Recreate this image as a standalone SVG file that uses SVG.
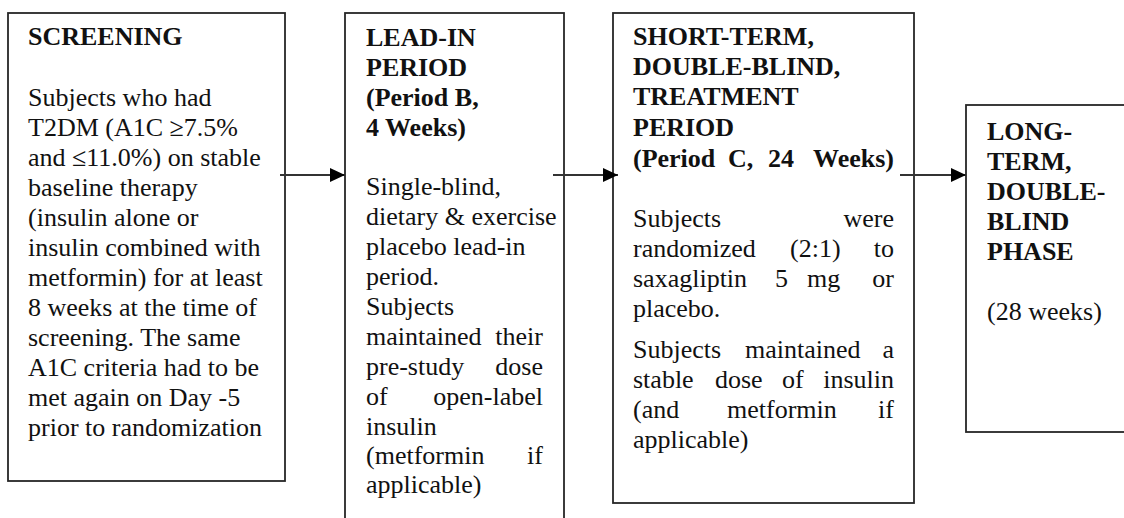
<svg xmlns="http://www.w3.org/2000/svg" width="1124" height="518" viewBox="0 0 1124 518">
  <style>
    .box { fill: #ffffff; stroke: #262626; stroke-width: 1.8; }
    text { font-family: "Liberation Serif", "Times New Roman", serif; font-size: 26px; fill: #111111; }
    .h { font-weight: bold; }
    .end { text-anchor: end; }
    .link { stroke: #333333; stroke-width: 2; fill: none; }
  </style>
  <defs>
    <marker id="arrow" markerWidth="15" markerHeight="14" refX="15" refY="7" orient="auto" markerUnits="userSpaceOnUse">
      <path d="M0,0 L15,7 L0,14 Z" fill="#000000"/>
    </marker>
  </defs>
  <rect width="1124" height="518" fill="#ffffff"/>

  <!-- Screening -->
  <g id="screening">
    <rect class="box" x="8" y="13" width="277" height="468"/>
    <text class="h" x="28" y="45">SCREENING</text>
    <text x="28" y="106">Subjects who had</text>
    <text x="28" y="136">T2DM (A1C ≥7.5%</text>
    <text x="28" y="166">and ≤11.0%) on stable</text>
    <text x="28" y="196">baseline therapy</text>
    <text x="28" y="226">(insulin alone or</text>
    <text x="28" y="256">insulin combined with</text>
    <text x="28" y="286">metformin) for at least</text>
    <text x="28" y="316">8 weeks at the time of</text>
    <text x="28" y="346">screening. The same</text>
    <text x="28" y="376">A1C criteria had to be</text>
    <text x="28" y="406">met again on Day -5</text>
    <text x="28" y="436">prior to randomization</text>
  </g>

  <!-- Lead-in period -->
  <g id="lead-in">
    <rect class="box" x="345" y="13" width="219" height="520"/>
    <text class="h" x="366" y="46">LEAD-IN</text>
    <text class="h" x="366" y="76">PERIOD</text>
    <text class="h" x="366" y="106">(Period B,</text>
    <text class="h" x="366" y="136">4 Weeks)</text>
    <text x="366" y="195">Single-blind,</text>
    <text x="366" y="225">dietary &amp; exercise</text>
    <text x="366" y="255">placebo lead-in</text>
    <text x="366" y="285">period.</text>
    <text x="366" y="315">Subjects</text>
    <text x="366" y="345">maintained</text><text class="end" x="543" y="345">their</text>
    <text x="366" y="375">pre-study</text><text class="end" x="543" y="375">dose</text>
    <text x="366" y="405">of</text><text class="end" x="543" y="405">open-label</text>
    <text x="366" y="435">insulin</text>
    <text x="366" y="464">(metformin</text><text class="end" x="543" y="464">if</text>
    <text x="366" y="493">applicable)</text>
  </g>

  <!-- Short-term double-blind treatment period -->
  <g id="short-term">
    <rect class="box" x="613" y="13" width="301" height="490"/>
    <text class="h" x="633" y="45">SHORT-TERM,</text>
    <text class="h" x="633" y="75">DOUBLE-BLIND,</text>
    <text class="h" x="633" y="105">TREATMENT</text>
    <text class="h" x="633" y="136">PERIOD</text>
    <text class="h" x="633" y="167">(Period</text><text class="h" x="728" y="167">C,</text><text class="h" x="768" y="167">24</text><text class="h end" x="894" y="167">Weeks)</text>
    <text x="633" y="227">Subjects</text><text class="end" x="894" y="227">were</text>
    <text x="633" y="257">randomized</text><text x="790" y="257">(2:1)</text><text class="end" x="894" y="257">to</text>
    <text x="633" y="287">saxagliptin</text><text x="775" y="287">5</text><text x="807" y="287">mg</text><text class="end" x="894" y="287">or</text>
    <text x="633" y="317">placebo.</text>
    <text x="633" y="358">Subjects</text><text x="745" y="358">maintained</text><text class="end" x="894" y="358">a</text>
    <text x="633" y="388">stable</text><text x="715" y="388">dose</text><text x="782" y="388">of</text><text class="end" x="894" y="388">insulin</text>
    <text x="633" y="418">(and</text><text x="727" y="418">metformin</text><text class="end" x="894" y="418">if</text>
    <text x="633" y="448">applicable)</text>
  </g>

  <!-- Long-term double-blind phase -->
  <g id="long-term">
    <rect class="box" x="966" y="105" width="170" height="327"/>
    <text class="h" x="987" y="140">LONG-</text>
    <text class="h" x="987" y="170">TERM,</text>
    <text class="h" x="987" y="200">DOUBLE-</text>
    <text class="h" x="987" y="230">BLIND</text>
    <text class="h" x="987" y="260">PHASE</text>
    <text x="987" y="320">(28 weeks)</text>
  </g>

  <!-- Connectors -->
  <g id="connectors">
    <line class="link" x1="280" y1="175" x2="345" y2="175" marker-end="url(#arrow)"/>
    <line class="link" x1="553" y1="175" x2="618" y2="175" marker-end="url(#arrow)"/>
    <line class="link" x1="900" y1="175" x2="966" y2="175" marker-end="url(#arrow)"/>
  </g>
</svg>
